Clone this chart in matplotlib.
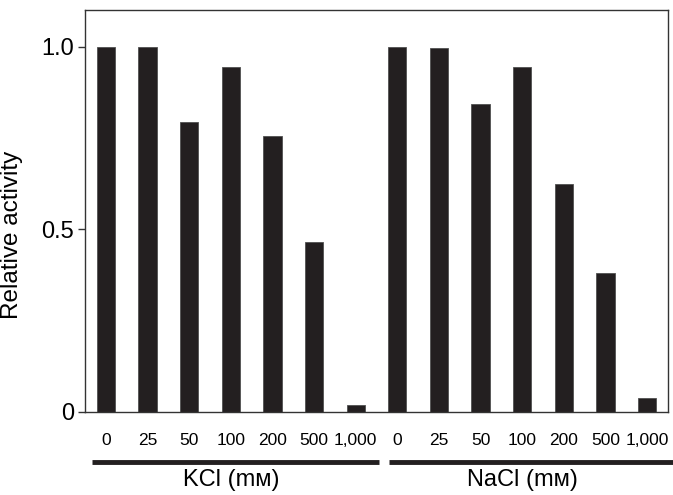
import matplotlib.pyplot as plt
import numpy as np

plt.rcParams['font.family'] = ['Liberation Sans', 'DejaVu Sans']

concs = ['0', '25', '50', '100', '200', '500', '1,000']
kcl = [1.0, 1.0, 0.793, 0.943, 0.756, 0.465, 0.02]
nacl = [1.0, 0.995, 0.843, 0.943, 0.624, 0.381, 0.037]
groups = ['KCl (m\u1d0d)', 'NaCl (m\u1d0d)']

values = kcl + nacl
labels = concs + concs
x = np.arange(len(values))

fig = plt.figure(figsize=(6.73, 4.95), dpi=100)
ax = fig.add_axes([0.1263, 0.1677, 0.8663, 0.8121])

ax.bar(x, values, width=0.44, color='#231f20', edgecolor='#505050', linewidth=0.6)

ax.set_xlim(-0.5, len(values) - 0.5)
ax.set_ylim(0, 1.1)
ax.set_yticks([0, 0.5, 1.0])
ax.set_yticklabels(['0', '0.5', '1.0'], fontsize=17)
ax.set_xticks(x)
ax.set_xticklabels(labels, fontsize=12.5)
ax.tick_params(axis='x', length=0, pad=15)
ax.tick_params(axis='y', length=5, width=1, pad=3, color='#333333')

for s in ax.spines.values():
    s.set_color('#333333')
    s.set_linewidth(1)

ax.set_ylabel('Relative activity', fontsize=17.5)
ax.yaxis.set_label_coords(-0.106, 0.44)

# group brackets under the tick labels
trans = ax.get_xaxis_transform()
ax.plot([-0.34, 6.57], [-0.124, -0.124], color='#231f20', lw=3.5,
        transform=trans, clip_on=False, solid_capstyle='butt')
ax.plot([6.81, 13.7], [-0.124, -0.124], color='#231f20', lw=3.5,
        transform=trans, clip_on=False, solid_capstyle='butt')
ax.text(3, -0.17, groups[0], transform=trans, ha='center', va='center', fontsize=17)
ax.text(10, -0.17, groups[1], transform=trans, ha='center', va='center', fontsize=17)

fig.savefig('out.png', dpi=100)
